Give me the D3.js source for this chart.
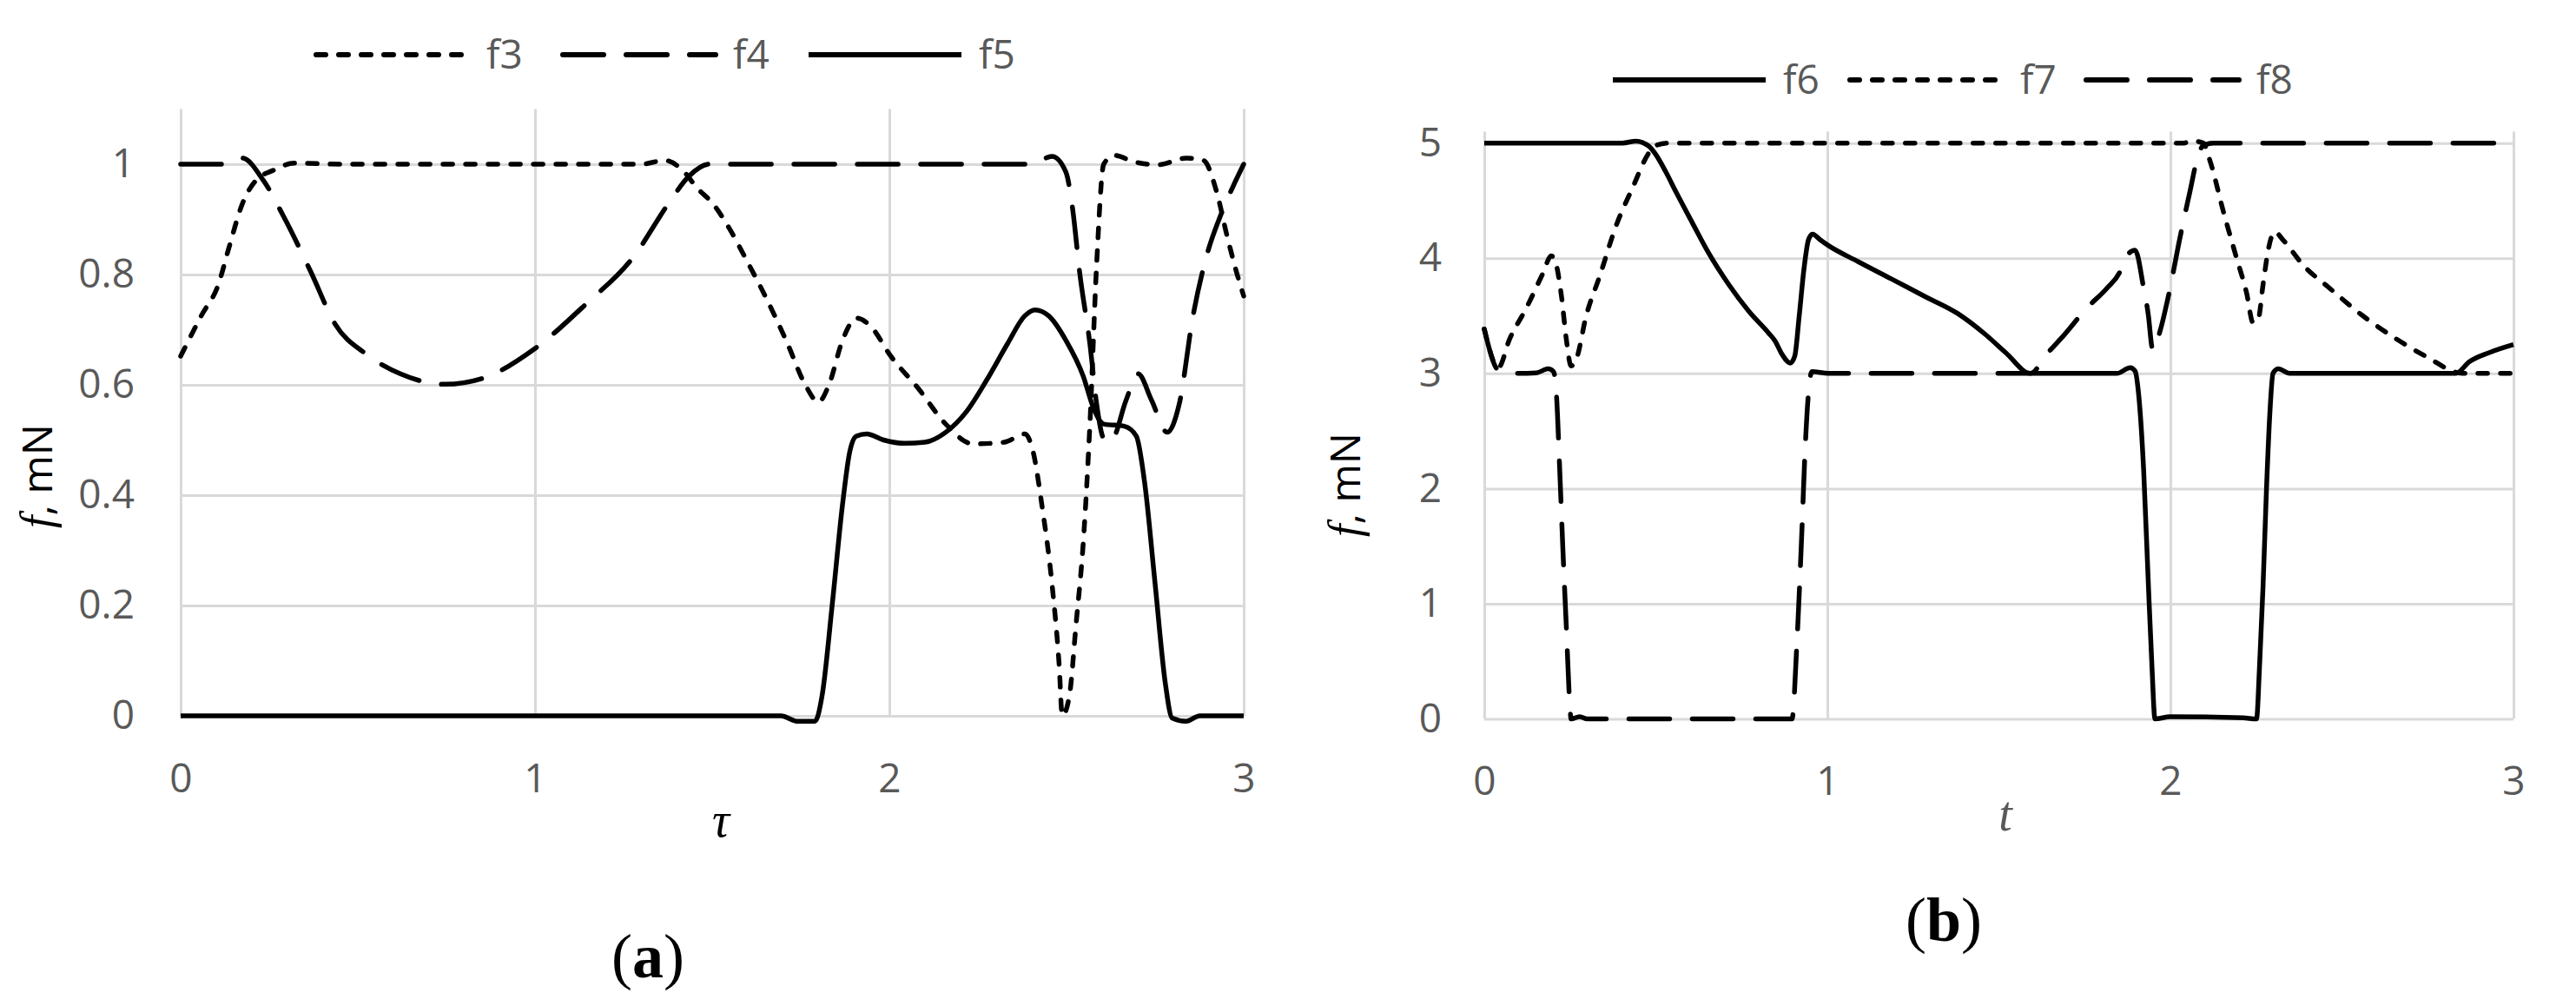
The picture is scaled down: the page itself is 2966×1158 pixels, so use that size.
<!DOCTYPE html>
<html><head><meta charset="utf-8">
<script src="https://cdn.jsdelivr.net/npm/d3@7"></script>
<style>html,body{margin:0;padding:0;background:#fff;}svg{display:block;}</style>
</head><body>
<script>
// ---------- data ----------
const xTicks = [0, 1, 2, 3];
const xTickLabels = ["0", "1", "2", "3"];
const yTicksA = [0, 0.2, 0.4, 0.6, 0.8, 1];
const yTickLabelsA = ["0", "0.2", "0.4", "0.6", "0.8", "1"];
const yTicksB = [0, 1, 2, 3, 4, 5];
const yTickLabelsB = ["0", "1", "2", "3", "4", "5"];
const seriesNamesA = ["f3", "f4", "f5"];
const seriesNamesB = ["f6", "f7", "f8"];

const f3 = [[0,0.652],[0.058,0.725],[0.107,0.783],[0.136,0.848],[0.174,0.928],[0.213,0.971],[0.262,0.989],[0.32,1.002],[0.45,1.0],[1.3,1.0],[1.366,1.007],[1.415,0.99],[1.46,0.955],[1.5,0.93],[1.548,0.884],[1.597,0.826],[1.655,0.754],[1.713,0.674],[1.762,0.601],[1.80,0.569],[1.83,0.601],[1.868,0.681],[1.907,0.721],[1.946,0.707],[2.004,0.652],[2.081,0.594],[2.159,0.529],[2.236,0.493],[2.324,0.496],[2.382,0.511],[2.406,0.478],[2.43,0.384],[2.459,0.239],[2.479,0.094],[2.488,0.0],[2.508,0.036],[2.527,0.167],[2.547,0.312],[2.566,0.529],[2.585,0.819],[2.605,1.0],[2.634,1.016],[2.692,1.004],[2.76,0.999],[2.837,1.011],[2.886,1.007],[2.924,0.949],[2.953,0.87],[2.983,0.797],[3.0,0.761]];
const f4 = [[0,1.0],[0.116,1.0],[0.174,1.011],[0.233,0.971],[0.29,0.906],[0.368,0.804],[0.436,0.71],[0.523,0.656],[0.62,0.62],[0.746,0.601],[0.853,0.612],[0.998,0.665],[1.143,0.746],[1.279,0.833],[1.376,0.928],[1.434,0.978],[1.492,1.0],[2.401,1.0],[2.459,1.014],[2.498,0.986],[2.517,0.92],[2.537,0.804],[2.566,0.674],[2.585,0.565],[2.6,0.51],[2.614,0.496],[2.629,0.5],[2.668,0.572],[2.702,0.62],[2.74,0.572],[2.784,0.514],[2.818,0.565],[2.857,0.725],[2.895,0.833],[2.934,0.906],[2.973,0.964],[3.0,1.0]];
const f5 = [[0,0],[1.694,0],[1.742,-0.01],[1.79,-0.01],[1.81,0.036],[1.839,0.203],[1.868,0.384],[1.888,0.478],[1.907,0.507],[1.936,0.511],[1.984,0.5],[2.043,0.494],[2.1,0.496],[2.159,0.514],[2.217,0.551],[2.275,0.609],[2.333,0.674],[2.382,0.725],[2.411,0.736],[2.45,0.725],[2.498,0.681],[2.547,0.616],[2.576,0.558],[2.605,0.529],[2.663,0.525],[2.697,0.507],[2.721,0.42],[2.75,0.239],[2.779,0.058],[2.798,-0.004],[2.837,-0.01],[2.876,0],[3,0]];

const f6 = [[0,5],[0.403,5],[0.442,5.017],[0.481,4.97],[0.5,4.9],[0.529,4.75],[0.558,4.58],[0.606,4.31],[0.655,4.04],[0.713,3.77],[0.771,3.54],[0.829,3.35],[0.848,3.28],[0.867,3.17],[0.892,3.09],[0.905,3.15],[0.918,3.5],[0.932,3.91],[0.945,4.16],[0.957,4.21],[0.979,4.16],[1.003,4.11],[1.09,3.97],[1.187,3.82],[1.283,3.67],[1.38,3.52],[1.46,3.34],[1.52,3.18],[1.592,3.0],[1.844,3.0],[1.883,3.05],[1.897,3.02],[1.907,2.83],[1.922,2.16],[1.936,1.15],[1.946,0.47],[1.955,0],[2.0,0.02],[2.212,0.01],[2.251,0],[2.26,0.47],[2.27,1.15],[2.28,1.99],[2.29,2.66],[2.299,3.0],[2.314,3.04],[2.348,3.0],[2.832,3.0],[2.871,3.1],[2.929,3.18],[3.0,3.25]];
const f7 = [[0,3.385],[0.041,3.05],[0.074,3.3],[0.123,3.57],[0.171,3.87],[0.195,4.02],[0.205,3.99],[0.225,3.67],[0.239,3.3],[0.253,3.065],[0.268,3.12],[0.297,3.5],[0.336,3.84],[0.384,4.28],[0.432,4.61],[0.481,4.92],[0.5,4.98],[0.539,5.0],[2.04,5.0],[2.057,5.02],[2.096,5.0],[2.115,4.85],[2.154,4.41],[2.193,4.0],[2.222,3.7],[2.241,3.44],[2.256,3.47],[2.27,3.77],[2.285,4.07],[2.304,4.23],[2.328,4.16],[2.387,3.94],[2.464,3.74],[2.561,3.5],[2.658,3.3],[2.755,3.13],[2.832,3.01],[2.852,3.0],[3,3.0]];
const f8 = [[0,3.385],[0.041,3.03],[0.094,3.0],[0.152,3.005],[0.186,3.04],[0.202,3.015],[0.21,2.83],[0.22,2.157],[0.229,1.48],[0.239,0.81],[0.249,0.138],[0.253,0],[0.278,0.02],[0.3,0],[0.897,0],[0.911,0.643],[0.926,1.65],[0.935,2.325],[0.945,2.83],[0.955,3.015],[1.003,3.0],[1.592,3.0],[1.64,3.17],[1.689,3.33],[1.757,3.57],[1.815,3.74],[1.854,3.89],[1.868,4.0],[1.897,4.07],[1.922,3.74],[1.936,3.5],[1.946,3.23],[1.95,3.2],[1.97,3.37],[1.999,3.74],[2.028,4.18],[2.057,4.58],[2.077,4.85],[2.096,4.98],[2.125,5.0],[3,5.0]];

// ---------- styles ----------
const DOT = "11,15", LONG = "47,26";
const styleA = [DOT, LONG, null];
const styleB = [null, DOT, LONG];
const GRID = "#d9d9d9", LABEL = "#595959";
const TICKFONT = "'Open Sans', 'Liberation Sans', sans-serif";

const W = 2966, H = 1158;
const svg = d3.select("body").append("svg").attr("width", W).attr("height", H);

function panel(cfg) {
  const x = d3.scaleLinear().domain([0, 3]).range(cfg.xr);
  const y = d3.scaleLinear().domain(cfg.yd).range(cfg.yr);
  const g = svg.append("g");
  const pw = cfg.xr[1] - cfg.xr[0], ph = cfg.yr[0] - cfg.yr[1];

  const ya = g.append("g").attr("transform", `translate(${cfg.xr[0]},0)`)
    .call(d3.axisLeft(y).tickValues(cfg.yt).tickFormat((d, i) => cfg.ytl[i])
      .tickSizeInner(-pw).tickSizeOuter(0).tickPadding(cfg.ypad));
  const xa = g.append("g").attr("transform", `translate(0,${cfg.yr[0]})`)
    .call(d3.axisBottom(x).tickValues(xTicks).tickFormat((d, i) => xTickLabels[i])
      .tickSizeInner(-ph).tickSizeOuter(0).tickPadding(55));
  [ya, xa].forEach(a => {
    a.select(".domain").remove();
    a.selectAll(".tick line").attr("stroke", GRID).attr("stroke-width", 3);
    a.selectAll(".tick text").attr("fill", LABEL).style("font-family", TICKFONT).style("font-size", "46px");
  });

  const line = d3.line().x(d => x(d[0])).y(d => y(d[1])).curve(d3.curveMonotoneX);
  cfg.series.forEach((s, i) => {
    g.append("path").datum(s).attr("d", line).attr("fill", "none")
      .attr("stroke", "#000").attr("stroke-width", 5.5)
      .attr("stroke-linecap", cfg.styles[i] ? "round" : "butt")
      .attr("stroke-linejoin", "round")
      .attr("stroke-dasharray", cfg.styles[i]);
  });

  // legend
  cfg.names.forEach((n, i) => {
    const lx = cfg.legX[i];
    g.append("line").attr("x1", lx).attr("x2", lx + 176).attr("y1", cfg.legY).attr("y2", cfg.legY)
      .attr("stroke", "#000").attr("stroke-width", 6)
      .attr("stroke-linecap", cfg.styles[i] ? "round" : "butt")
      .attr("stroke-dasharray", cfg.styles[i]);
    g.append("text").attr("x", lx + 196).attr("y", cfg.legY + 16).text(n)
      .attr("fill", LABEL).style("font-family", TICKFONT).style("font-size", "46px");
  });

  // y title
  const yt = g.append("text").attr("transform", `translate(${cfg.ytx},${cfg.yty}) rotate(-90)`)
    .attr("text-anchor", "middle").attr("fill", "#000").style("font-size", "48px");
  yt.append("tspan").text("f").style("font-family", "'Liberation Serif', serif").style("font-style", "italic").style("font-size", "52px");
  yt.append("tspan").text(", mN").style("font-family", TICKFONT);

  // x title
  g.append("text").attr("x", cfg.xtx).attr("y", cfg.xty).attr("text-anchor", "middle")
    .attr("fill", cfg.xtc).style("font-family", "'Liberation Serif', serif").style("font-style", "italic")
    .style("font-size", "56px").text(cfg.xtitle);

  // panel label
  const pl = g.append("text").attr("x", cfg.plx).attr("y", cfg.ply).attr("text-anchor", "middle")
    .attr("fill", "#000").style("font-family", "'Liberation Serif', serif").style("font-size", "72px");
  pl.append("tspan").text("(");
  pl.append("tspan").text(cfg.plabel).style("font-weight", "bold");
  pl.append("tspan").text(")");
}

panel({
  xr: [208, 1432], yd: [0, 1.1], yr: [824, 125.5], yt: yTicksA, ytl: yTickLabelsA, ypad: 53,
  series: [f3, f4, f5], styles: styleA, names: seriesNamesA,
  legX: [364, 648, 931], legY: 63,
  ytx: 60, yty: 548, xtx: 830, xty: 963, xtitle: "τ", xtc: "#000",
  plx: 746, ply: 1125, plabel: "a"
});
panel({
  xr: [1709, 2894], yd: [0, 5.1], yr: [827.6, 151.4], yt: yTicksB, ytl: yTickLabelsB, ypad: 49,
  series: [f6, f7, f8], styles: styleB, names: seriesNamesB,
  legX: [1857, 2130, 2402], legY: 92,
  ytx: 1566, yty: 558, xtx: 2309, xty: 956, xtitle: "t", xtc: LABEL,
  plx: 2238, ply: 1083, plabel: "b"
});
</script>
</body></html>
